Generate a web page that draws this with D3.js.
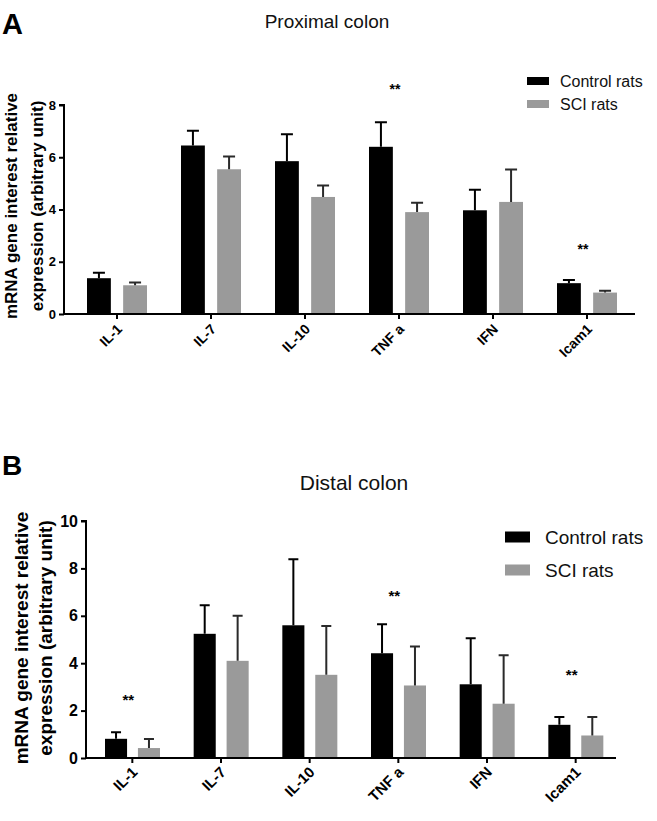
<!DOCTYPE html>
<html>
<head>
<meta charset="utf-8">
<script src="https://cdn.jsdelivr.net/npm/d3@7"></script>
<style>
  html, body { margin: 0; padding: 0; background: #fff; }
  svg { display: block; font-family: "Liberation Sans", Arial, sans-serif; }
</style>
</head>
<body>
<svg id="chart" width="657" height="821"></svg>
<script>
// ---------- data ----------
const categories = ["IL-1", "IL-7", "IL-10", "TNF a", "IFN", "Icam1"];
const seriesNames = ["Control rats", "SCI rats"];

// Panel A: Proximal colon
const proxControl = [1.37, 6.45, 5.85, 6.40, 3.97, 1.18];
const proxControlErr = [0.21, 0.56, 1.03, 0.94, 0.79, 0.12];
const proxSci = [1.10, 5.54, 4.48, 3.90, 4.29, 0.82];
const proxSciErr = [0.11, 0.49, 0.44, 0.36, 1.24, 0.07];
const proxTicks = [0, 2, 4, 6, 8];
const proxStars = [{cat: "TNF a", level: 8.7}, {cat: "Icam1", level: 2.6}];

// Panel B: Distal colon
const distControl = [0.81, 5.24, 5.60, 4.42, 3.11, 1.40];
const distControlErr = [0.28, 1.21, 2.79, 1.22, 1.94, 0.33];
const distSci = [0.42, 4.10, 3.51, 3.06, 2.29, 0.95];
const distSciErr = [0.38, 1.90, 2.06, 1.64, 2.05, 0.78];
const distTicks = [0, 2, 4, 6, 8, 10];
const distStars = [{cat: "IL-1", level: 2.58}, {cat: "TNF a", level: 6.96}, {cat: "Icam1", level: 3.63}];

const colors = {"Control rats": "#000000", "SCI rats": "#9a9a9a"};
const errColors = {"Control rats": "#000000", "SCI rats": "#2a2a2a"};

const svg = d3.select("#chart");

function drawPanel(o) {
  const g = svg.append("g");
  const rows = categories.map((c, i) => ({
    cat: c,
    vals: [
      {s: seriesNames[0], v: o.control[i], e: o.controlErr[i]},
      {s: seriesNames[1], v: o.sci[i], e: o.sciErr[i]}
    ]
  }));

  const y = d3.scaleLinear().domain([0, o.yMax]).range([o.y0, o.yTop]);
  const x0 = d3.scaleBand().domain(categories).range([o.bandStart, o.bandEnd]);
  const x1 = d3.scaleBand().domain(seriesNames).range(o.subRange).paddingInner(o.subPad);

  // panel letter
  g.append("text").attr("x", 2).attr("y", o.letterY)
    .attr("font-size", o.letterSize).attr("font-weight", "bold").text(o.letter);

  // title
  g.append("text").attr("x", o.titleX).attr("y", o.titleY)
    .attr("text-anchor", "middle").attr("font-size", o.titleSize).attr("fill", "#111")
    .text(o.title);

  // bars
  const grp = g.selectAll(".grp").data(rows).join("g")
    .attr("transform", d => `translate(${x0(d.cat)},0)`);
  grp.selectAll("rect").data(d => d.vals).join("rect")
    .attr("x", d => x1(d.s)).attr("width", x1.bandwidth())
    .attr("y", d => y(d.v)).attr("height", d => y(0) - y(d.v))
    .attr("fill", d => colors[d.s]);
  // error bars
  grp.selectAll("path.err").data(d => d.vals).join("path").attr("class", "err")
    .attr("d", d => {
      const cx = x1(d.s) + x1.bandwidth() / 2;
      const yt = y(d.v + d.e);
      return `M${cx},${y(d.v)}V${yt}M${cx - o.cap / 2},${yt}H${cx + o.cap / 2}`;
    })
    .attr("stroke", d => errColors[d.s]).attr("stroke-width", 2).attr("fill", "none");

  // y axis
  const yAxis = d3.axisLeft(y).tickValues(o.ticks).tickSize(o.tickLen).tickPadding(3).tickFormat(d3.format("d"));
  const ya = g.append("g").attr("transform", `translate(${o.axisX},0)`).call(yAxis);
  ya.select(".domain").attr("stroke", "#000").attr("stroke-width", 2)
    .attr("d", `M${-o.tickLen},${o.yTop}H0V${o.y0}`);
  ya.selectAll(".tick line").attr("stroke", "#000").attr("stroke-width", 2);
  ya.selectAll(".tick text").attr("font-size", o.tickFont).attr("font-weight", "bold")
    .attr("fill", "#000").attr("font-family", "Liberation Sans, Arial, sans-serif");

  // x axis
  const xAxis = d3.axisBottom(x0).tickSize(o.tickLen).tickSizeOuter(0).tickFormat("");
  const xa = g.append("g").attr("transform", `translate(0,${o.y0})`).call(xAxis);
  xa.select(".domain").attr("stroke", "#000").attr("stroke-width", 2)
    .attr("d", `M${o.axisX},0H${o.axisEnd}`);
  xa.selectAll(".tick line").attr("stroke", "#000").attr("stroke-width", 2);
  xa.selectAll(".tick").append("text")
    .attr("transform", `translate(${o.xLabDx},${o.xLabDy}) rotate(-45)`)
    .attr("text-anchor", "end").attr("fill", "#000")
    .attr("font-size", o.xFont).attr("font-weight", "bold")
    .attr("font-family", "Liberation Sans, Arial, sans-serif")
    .text(d => d);

  // y label
  const yl = g.append("text").attr("transform", `translate(${o.ylX},${o.ylY}) rotate(-90)`)
    .attr("text-anchor", "middle").attr("font-size", o.ylFont).attr("font-weight", "bold");
  yl.append("tspan").attr("x", 0).attr("y", 0).text("mRNA gene interest relative");
  yl.append("tspan").attr("x", 0).attr("y", o.ylGap).text("expression (arbitrary unit)");

  // stars
  g.selectAll(".star").data(o.stars).join("text")
    .attr("x", d => x0(d.cat) + x0.bandwidth() / 2 - 4)
    .attr("y", d => y(d.level) + o.starFont * 0.55)
    .attr("text-anchor", "middle").attr("font-size", o.starFont).attr("font-weight", "bold")
    .text("**");

  // legend
  const lg = g.selectAll(".leg").data(seriesNames).join("g")
    .attr("transform", (d, i) => `translate(${o.legX},${o.legY + i * o.legGap})`);
  lg.append("rect").attr("x", 0).attr("y", -o.swH / 2).attr("width", o.swW).attr("height", o.swH)
    .attr("fill", d => colors[d]);
  lg.append("text").attr("x", o.legTextDx).attr("y", 0).attr("dy", "0.35em")
    .attr("font-size", o.legFont).attr("fill", "#111").text(d => d);
}

drawPanel({
  letter: "A", letterY: 34, letterSize: 29,
  title: "Proximal colon", titleX: 327, titleY: 28, titleSize: 19,
  control: proxControl, controlErr: proxControlErr, sci: proxSci, sciErr: proxSciErr,
  yMax: 8, y0: 314, yTop: 105, ticks: proxTicks,
  bandStart: 70, bandEnd: 634, subRange: [17, 77], subPad: 0.34,
  axisX: 64, axisEnd: 635, tickLen: 5, tickFont: 13, cap: 12,
  xLabDx: 6, xLabDy: 16, xFont: 14,
  ylX: 17, ylY: 206, ylFont: 17, ylGap: 26,
  stars: proxStars, starFont: 14,
  legX: 527, legY: 81, legGap: 23, swW: 22, swH: 8, legTextDx: 33, legFont: 16
});

drawPanel({
  letter: "B", letterY: 475, letterSize: 28,
  title: "Distal colon", titleX: 354, titleY: 490, titleSize: 21,
  control: distControl, controlErr: distControlErr, sci: distSci, sciErr: distSciErr,
  yMax: 10, y0: 758, yTop: 521, ticks: distTicks,
  bandStart: 88, bandEnd: 620, subRange: [17, 72], subPad: 0.33,
  axisX: 86, axisEnd: 616, tickLen: 5, tickFont: 16, cap: 10,
  xLabDx: 6, xLabDy: 15, xFont: 15,
  ylX: 28, ylY: 638, ylFont: 19, ylGap: 24,
  stars: distStars, starFont: 15,
  legX: 505, legY: 537, legGap: 33, swW: 25, swH: 11, legTextDx: 40, legFont: 19
});
</script>
</body>
</html>
